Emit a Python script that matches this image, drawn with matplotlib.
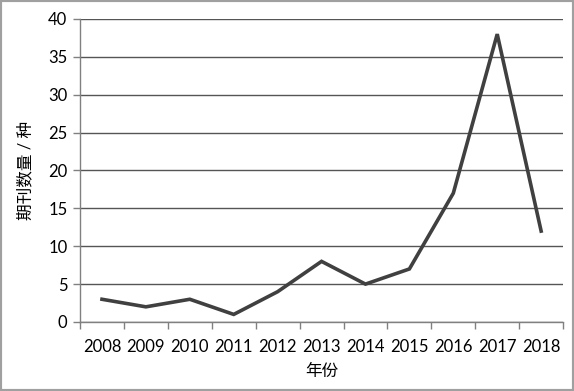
import matplotlib.pyplot as plt
from matplotlib.patches import Rectangle

plt.rcParams['font.family'] = ['Lato', 'Noto Sans CJK SC', 'DejaVu Sans']

years = ['2008', '2009', '2010', '2011', '2012', '2013', '2014', '2015', '2016', '2017', '2018']
counts = [3, 2, 3, 1, 4, 8, 5, 7, 17, 38, 12]

fig = plt.figure(figsize=(5.74, 3.91), dpi=100)
ax = fig.add_axes([0.1394, 0.1765, 0.8416, 0.775])

x = list(range(len(years)))
ax.plot(x, counts, color='#404040', linewidth=2.6, solid_joinstyle='miter')

ax.set_xlim(-0.5, len(years) - 0.5)
ax.set_ylim(0, 40)
ax.set_yticks(range(0, 41, 5))
ax.set_xticks(x)
ax.set_xticklabels(years)
ax.set_xticks([i - 0.5 for i in range(len(years) + 1)], minor=True)
ax.tick_params(axis='x', which='major', length=0, pad=12, labelsize=12)
ax.tick_params(axis='x', which='minor', length=5, color='#808080', width=1)
ax.tick_params(axis='y', length=5, color='#808080', width=1, labelsize=12, pad=4)

ax.grid(axis='y', color='#555555', linewidth=1)
ax.set_axisbelow(True)
for s in ['top', 'right']:
    ax.spines[s].set_visible(False)
for s in ['left', 'bottom']:
    ax.spines[s].set_color('#808080')
    ax.spines[s].set_linewidth(1)

ax.set_xlabel('年份', fontsize=12, labelpad=6)
ax.set_ylabel('期刊数量 / 种', fontsize=12, labelpad=11)

fig.patches.append(Rectangle((0, 0), 1, 1, transform=fig.transFigure, fill=False,
                             edgecolor='#a0a0a0', linewidth=3))

fig.savefig('out.png', dpi=100)
